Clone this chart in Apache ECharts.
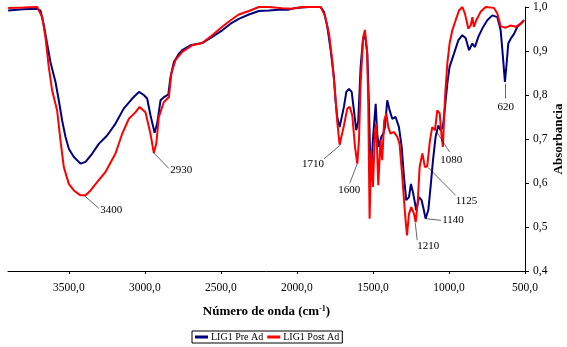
<!DOCTYPE html>
<html>
<head>
<meta charset="utf-8">
<script src="https://cdn.jsdelivr.net/npm/echarts@6/dist/echarts.min.js"></script>
<style>
  html, body { margin: 0; padding: 0; background: #fff; }
  #chart { width: 567px; height: 347px; }
</style>
</head>
<body>
<div id="chart"></div>
<script>
// IR spectra, wavenumber (cm-1) vs absorbance
const preWave = [3899, 3800, 3708, 3686, 3664, 3643, 3621, 3588, 3566, 3544, 3522, 3500, 3467, 3423, 3390, 3346, 3303, 3248, 3193, 3139, 3083, 3039, 3007, 2985, 2963, 2936, 2919, 2897, 2875, 2846, 2831, 2809, 2776, 2754, 2700, 2623, 2557, 2491, 2436, 2382, 2316, 2250, 2184, 2118, 2053, 2009, 1921, 1844, 1822, 1800, 1778, 1757, 1746, 1735, 1719, 1706, 1691, 1675, 1658, 1640, 1625, 1610, 1597, 1581, 1566, 1553, 1537, 1526, 1515, 1500, 1482, 1472, 1461, 1445, 1432, 1421, 1406, 1390, 1373, 1351, 1329, 1311, 1296, 1281, 1263, 1250, 1235, 1215, 1197, 1180, 1165, 1154, 1136, 1121, 1105, 1088, 1070, 1055, 1040, 1026, 1011, 996, 967, 939, 912, 890, 868, 846, 829, 807, 781, 748, 715, 682, 660, 645, 632, 621, 610, 594, 572, 550, 528, 506];
const preAbs = [0.992, 0.995, 0.996, 0.992, 0.958, 0.917, 0.875, 0.83, 0.788, 0.742, 0.705, 0.678, 0.659, 0.644, 0.648, 0.667, 0.689, 0.708, 0.735, 0.769, 0.792, 0.807, 0.8, 0.792, 0.754, 0.714, 0.735, 0.788, 0.795, 0.801, 0.841, 0.875, 0.894, 0.902, 0.913, 0.918, 0.932, 0.947, 0.962, 0.973, 0.983, 0.991, 0.992, 0.994, 0.994, 0.998, 1.0, 1.0, 0.989, 0.955, 0.902, 0.841, 0.788, 0.75, 0.727, 0.731, 0.773, 0.807, 0.814, 0.807, 0.765, 0.72, 0.739, 0.864, 0.924, 0.939, 0.894, 0.773, 0.606, 0.7, 0.78, 0.712, 0.682, 0.705, 0.712, 0.727, 0.788, 0.765, 0.746, 0.75, 0.727, 0.682, 0.614, 0.561, 0.568, 0.598, 0.576, 0.538, 0.568, 0.561, 0.538, 0.519, 0.538, 0.591, 0.652, 0.705, 0.731, 0.72, 0.727, 0.773, 0.826, 0.864, 0.894, 0.924, 0.936, 0.929, 0.902, 0.917, 0.909, 0.932, 0.951, 0.97, 0.981, 0.977, 0.947, 0.886, 0.83, 0.871, 0.917, 0.928, 0.939, 0.955, 0.962, 0.97];

const postWave = [3899, 3800, 3708, 3675, 3654, 3632, 3610, 3577, 3555, 3533, 3500, 3467, 3423, 3390, 3357, 3314, 3259, 3193, 3149, 3105, 3061, 3035, 2996, 2963, 2941, 2925, 2908, 2875, 2842, 2825, 2798, 2754, 2689, 2623, 2557, 2491, 2436, 2382, 2316, 2250, 2184, 2097, 2031, 1965, 1844, 1816, 1789, 1768, 1750, 1735, 1719, 1706, 1691, 1669, 1653, 1636, 1618, 1603, 1592, 1581, 1564, 1553, 1539, 1531, 1522, 1511, 1500, 1487, 1478, 1465, 1450, 1439, 1426, 1412, 1399, 1384, 1362, 1340, 1325, 1307, 1289, 1276, 1263, 1248, 1230, 1219, 1206, 1193, 1175, 1158, 1143, 1125, 1110, 1092, 1077, 1061, 1048, 1040, 1026, 1011, 996, 978, 956, 934, 912, 895, 873, 857, 846, 836, 820, 792, 759, 704, 682, 660, 627, 594, 561, 528, 506];
const postAbs = [0.998, 0.999, 1.0, 0.977, 0.932, 0.864, 0.811, 0.765, 0.697, 0.636, 0.598, 0.583, 0.572, 0.572, 0.583, 0.602, 0.625, 0.667, 0.712, 0.746, 0.761, 0.773, 0.761, 0.712, 0.668, 0.689, 0.75, 0.784, 0.795, 0.85, 0.88, 0.898, 0.913, 0.918, 0.936, 0.955, 0.97, 0.983, 0.991, 1.0, 1.0, 0.997, 0.996, 1.0, 1.0, 0.981, 0.94, 0.88, 0.81, 0.74, 0.687, 0.686, 0.73, 0.769, 0.773, 0.754, 0.682, 0.644, 0.697, 0.826, 0.932, 0.948, 0.902, 0.788, 0.519, 0.674, 0.591, 0.712, 0.735, 0.595, 0.697, 0.652, 0.742, 0.758, 0.727, 0.712, 0.716, 0.705, 0.689, 0.614, 0.53, 0.481, 0.53, 0.545, 0.53, 0.511, 0.553, 0.636, 0.667, 0.636, 0.638, 0.697, 0.727, 0.72, 0.765, 0.758, 0.705, 0.682, 0.795, 0.871, 0.917, 0.947, 0.97, 0.992, 1.0, 0.985, 0.951, 0.958, 0.977, 0.955, 0.97, 0.989, 1.0, 0.998, 0.985, 0.956, 0.953, 0.958, 0.955, 0.962, 0.97];

const xTicks = [500, 1000, 1500, 2000, 2500, 3000, 3500];

// labelled bands and the point of the curve they mark
const bandNames = ["3400", "2930", "1710", "1600", "1210", "1140", "1125", "1080", "620"];
const bandPoints = [[3400, 0.572], [2940, 0.668], [1715, 0.686], [1603, 0.644], [1222, 0.51], [1153, 0.519], [1136, 0.635], [1088, 0.72], [627, 0.826]];

const SERIF = "'Liberation Serif', 'Times New Roman', serif";

// where each leader line ends, and how its text sits there
const leaderEnds = [[3303, 0.5425], [2842, 0.633], [1822, 0.655], [1653, 0.599], [1209, 0.47], [1051, 0.515], [956, 0.572], [995, 0.67], [627, 0.792]];
const leaderAlign = [
  ["left", "middle", 2], ["left", "middle", 2], ["right", "top", 0],
  ["center", "top", 1], ["left", "top", 0], ["left", "middle", 1],
  ["left", "top", 0], ["center", "top", 3], ["center", "top", 3],
];

const markData = bandNames.map((name, i) => [
  { coord: bandPoints[i] },
  {
    coord: leaderEnds[i],
    label: {
      show: true,
      position: "end",
      formatter: name,
      align: leaderAlign[i][0],
      verticalAlign: leaderAlign[i][1],
      distance: leaderAlign[i][2],
      color: "#000",
      fontSize: 11,
      fontFamily: SERIF,
    },
  },
]);

const chart = echarts.init(document.getElementById("chart"));

chart.setOption({
  animation: false,
  backgroundColor: "#fff",
  grid: { left: 8, right: 42, top: 7, bottom: 76, outerBoundsMode: "none", containLabel: false },
  legend: {
    data: ["LIG1 Pre Ad", "LIG1 Post Ad"],
    left: 192,
    bottom: 4,
    icon: "rect",
    itemWidth: 13,
    itemHeight: 3,
    itemGap: 4,
    padding: [1, 3, 1, 3],
    borderColor: "#000",
    borderWidth: 1,
    textStyle: { color: "#000", fontSize: 10, fontFamily: SERIF, padding: [0, 0, 0, -2] },
  },
  xAxis: {
    type: "value",
    min: 500,
    max: 3900,
    inverse: true,
    interval: 500,
    name: "{a|Número de onda (cm}{s|-1}{a|)}",
    nameLocation: "middle",
    nameGap: 34,
    nameMoveOverlap: false,
    nameTextStyle: {
      rich: {
        a: { fontSize: 13, fontWeight: "bold", fontFamily: SERIF, color: "#000" },
        s: { fontSize: 8, fontWeight: "bold", fontFamily: SERIF, color: "#000", verticalAlign: "top", padding: [0, 0, 6, 0] },
      },
    },
    axisLine: { show: true, onZero: false, lineStyle: { color: "#000", width: 1 } },
    axisTick: { show: true, length: 3, lineStyle: { color: "#000" }, customValues: xTicks },
    axisLabel: {
      color: "#000",
      fontSize: 11.5,
      fontFamily: SERIF,
      margin: 11,
      customValues: xTicks,
      formatter: (v) => v.toFixed(1).replace(".", ","),
    },
    splitLine: { show: false },
  },
  yAxis: {
    type: "value",
    position: "right",
    min: 0.4,
    max: 1.0,
    interval: 0.1,
    name: "Absorbancia",
    nameLocation: "middle",
    nameRotate: 90,
    nameGap: 27,
    nameMoveOverlap: false,
    nameTextStyle: { color: "#000", fontSize: 13, fontWeight: "bold", fontFamily: SERIF },
    axisLine: { show: true, lineStyle: { color: "#000", width: 1 } },
    axisTick: { show: true, length: 4, lineStyle: { color: "#000" } },
    axisLabel: {
      color: "#000",
      fontSize: 11.5,
      fontFamily: SERIF,
      margin: 8,
      formatter: (v) => v.toFixed(1).replace(".", ","),
    },
    splitLine: { show: false },
  },
  series: [
    {
      name: "LIG1 Pre Ad",
      type: "line",
      data: preWave.map((w, i) => [w, preAbs[i]]),
      showSymbol: false,
      lineStyle: { color: "#000080", width: 2 },
      itemStyle: { color: "#000080" },
    },
    {
      name: "LIG1 Post Ad",
      type: "line",
      data: postWave.map((w, i) => [w, postAbs[i]]),
      showSymbol: false,
      lineStyle: { color: "#ff0000", width: 2 },
      itemStyle: { color: "#ff0000" },
      markLine: {
        silent: true,
        symbol: "none",
        animation: false,
        lineStyle: { color: "#000", width: 0.6, type: "solid" },
        emphasis: { disabled: true },
        data: markData,
      },
    },
  ],
});
</script>
</body>
</html>
